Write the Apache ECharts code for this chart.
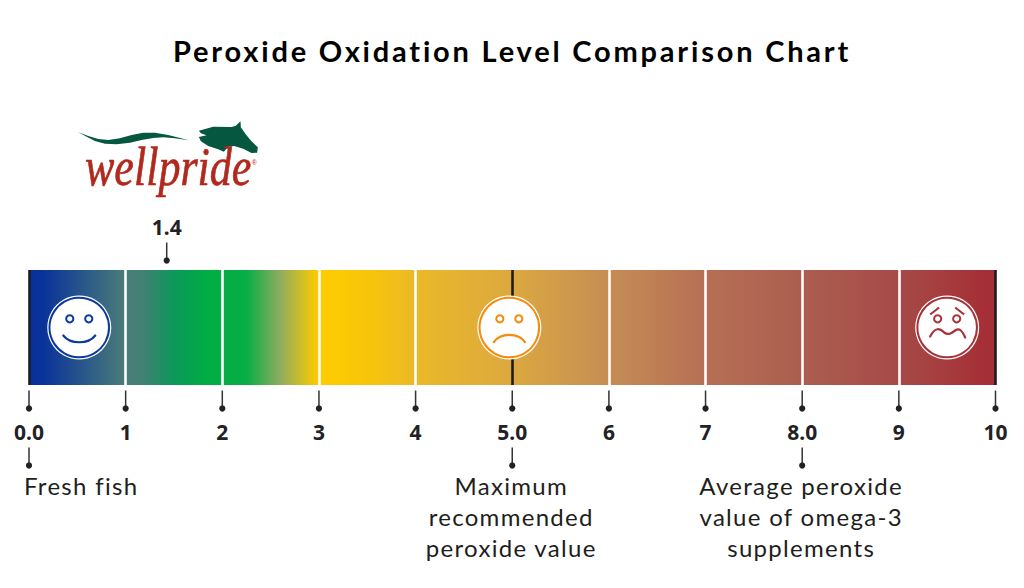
<!DOCTYPE html>
<html>
<head>
<meta charset="utf-8">
<style>
html,body{margin:0;padding:0;background:#fff}
#c{width:1024px;height:588px}
svg text[style*="Lato"]{letter-spacing:1.3px}
svg text[style*="29px"]{letter-spacing:2.8px}
</style>
<script src="https://cdn.jsdelivr.net/npm/echarts@6/dist/echarts.min.js"></script>
</head>
<body>
<div id="c"></div>
<script>
const titleText = 'Peroxide Oxidation Level Comparison Chart';
const axisTicks = [0,1,2,3,4,5,6,7,8,9,10];
const axisTickLabels = ['0.0','1','2','3','4','5.0','6','7','8.0','9','10'];
const scaleMax = 10;
const dividerColors = ['#1c1c20','#fff','#fff','#fff','#fff','#1c1c20','#fff','#fff','#fff','#fff','#1c1c20'];
const gradientStops = [0,0.15,1,1.15,1.5,1.85,2.25,2.6,2.95,3.05,3.6,4,5,6,7,8,9,9.9,10];
const gradientColors = ['#06309b','#0a339a','#4a7d78','#457f76','#0b985a','#00ae42','#08ad46','#8fac5f','#f5c808','#ffcc00','#f6c30e','#ebb928','#dca83f','#c58d55','#b66f55','#ab5e4f','#a64a48','#a52f36','#a52f36'];
const ourValue = 1.4;
const noteValues = [0,5,8];
const noteTexts = ['Fresh fish','Maximum\nrecommended\nperoxide value','Average peroxide\nvalue of omega-3\nsupplements'];
const noteAligns = ['left','center','center'];
const facePositions = [0.52,4.97,9.5];
const faceColors = ['#0b3a9e','#f58a0c','#a8323a'];
const faceMoods = ['happy','sad','worried'];

const fontText = 'Lato';
const ink = '#222226';

function stem(x, y0, y1){
  return [
    {type:'line',shape:{x1:x,y1:y0,x2:x,y2:y1},style:{stroke:'#333336',lineWidth:1.5}},
    {type:'circle',shape:{cx:x,cy:y1,r:3.1},style:{fill:ink}}
  ];
}
function renderStems(params, api){
  const p = api.coord([api.value(0),0]);
  return {type:'group',children:stem(p[0],p[1]+63,p[1]+81)};
}
function renderNote(params, api){
  const p = api.coord([api.value(0),0]);
  const i = params.dataIndex;
  const left = noteAligns[i]==='left';
  return {type:'group',children:stem(p[0],p[1]+120,p[1]+138).concat([{
    type:'text',
    style:{x:p[0]+(left?-5:-1),y:p[1]+142,text:noteTexts[i],align:noteAligns[i],verticalAlign:'top',
      font:'24px '+fontText,lineHeight:31,fill:'#1e1e20'}
  }])};
}
function renderOur(params, api){
  const p = api.coord([api.value(0),0]);
  const x = p[0]+2.4;
  return {type:'group',children:stem(x,p[1]-85,p[1]-67).concat([{
    type:'text',
    style:{x:x,y:p[1]-101,text:String(api.value(0)),align:'center',verticalAlign:'middle',
      font:'bold 21px "Noto Sans"',fill:ink}
  }])};
}
const mouths = {
  happy:'M-16,8 C-9,17 9,17 16,8',
  sad:'M-15.5,14.6 C-9,5 9,5 15.5,14.6',
  worried:'M-17,9 C-12,-1 -7,1 -3,5 C1,8 4,6 8,3 C12,0 15,3 18,10'
};
function renderFace(params, api){
  const p = api.coord([api.value(0),0]);
  const i = params.dataIndex, c = faceColors[i], m = faceMoods[i];
  const kids = [
    {type:'circle',shape:{r:32},style:{fill:'#fff'}},
    {type:'circle',shape:{r:29.8},style:{fill:'none',stroke:c,lineWidth:2}},
    {type:'circle',shape:{cx:-9.5,cy:-8.7,r:3.6},style:{fill:'none',stroke:c,lineWidth:2}},
    {type:'circle',shape:{cx:9.5,cy:-8.7,r:3.6},style:{fill:'none',stroke:c,lineWidth:2}},
    {type:'path',shape:{pathData:mouths[m]},style:{fill:'none',stroke:c,lineWidth:2.2,lineCap:'round'}}
  ];
  if(m==='worried'){
    kids.push({type:'path',shape:{pathData:'M-17,-13 L-8,-20'},style:{fill:'none',stroke:c,lineWidth:2.2}});
    kids.push({type:'path',shape:{pathData:'M17,-13 L8,-20'},style:{fill:'none',stroke:c,lineWidth:2.2}});
  }
  return {type:'group',x:p[0],y:p[1],children:kids};
}

const chart = echarts.init(document.getElementById('c'),null,{renderer:'svg'});
chart.setOption({
  animation:false,
  backgroundColor:'#fff',
  title:{text:titleText,left:'center',top:31,textStyle:{fontFamily:'Lato',fontWeight:'bold',fontSize:29,color:'#000'}},
  grid:{left:29,right:28.5,top:270,height:115},
  xAxis:{
    type:'value',min:0,max:scaleMax,interval:1,z:3,
    axisLine:{show:false},axisTick:{show:false},
    axisLabel:{margin:36,fontFamily:'Noto Sans',fontWeight:'bold',fontSize:21,color:ink,
      showMinLabel:true,showMaxLabel:true,hideOverlap:false,
      formatter:function(v){return axisTickLabels[axisTicks.indexOf(v)];}},
    splitLine:{show:true,showMinLine:true,showMaxLine:true,lineStyle:{color:dividerColors,width:2.6}}
  },
  yAxis:{type:'category',data:['scale'],show:false},
  series:[
    {type:'bar',data:[scaleMax],barWidth:'100%',z:2,silent:true,
      itemStyle:{color:new echarts.graphic.LinearGradient(0,0,1,0,
        gradientStops.map((s,i)=>({offset:s/scaleMax,color:gradientColors[i]})))}},
    {type:'custom',data:axisTicks.map(v=>[v]),renderItem:renderStems,clip:false,z:5,silent:true},
    {type:'custom',data:noteValues.map(v=>[v]),renderItem:renderNote,clip:false,z:5,silent:true},
    {type:'custom',data:[[ourValue]],renderItem:renderOur,clip:false,z:5,silent:true},
    {type:'custom',data:facePositions.map(v=>[v]),renderItem:renderFace,clip:false,z:6,silent:true}
  ],
  graphic:[{
    type:'group',x:75,y:118,scaleX:1/3,scaleY:1/3,children:[
      {type:'polygon',shape:{points:[[372,38],[415,26],[470,27],[482,24],[497,10],[498,28],[512,48],[530,70],[549,88],[547,104],[530,105],[505,92],[478,84],[460,86],[447,101],[430,94],[400,84],[378,70],[372,57],[395,52],[378,46]]},style:{fill:'#05573f'}},
      {type:'polygon',shape:{points:[[10,43],[40,54],[70,63],[100,66],[135,61],[170,51],[205,44],[240,44],[280,51],[342,67],[300,61],[265,58],[235,60],[200,66],[165,74],[125,79],[90,77],[60,69],[35,56]]},style:{fill:'#05573f'}},
      {type:'text',x:30,y:64,scaleX:0.8,scaleY:1,style:{text:'wellpride',font:'italic 165px "Liberation Serif"',fill:'#b0291c',stroke:'#b0291c',lineWidth:2,align:'left',verticalAlign:'top'}},
      {type:'text',x:530,y:132,style:{text:'®',font:'20px "Liberation Sans"',fill:'#b0291c',align:'left',verticalAlign:'middle'}}
    ]
  }]
});
</script>
</body>
</html>
